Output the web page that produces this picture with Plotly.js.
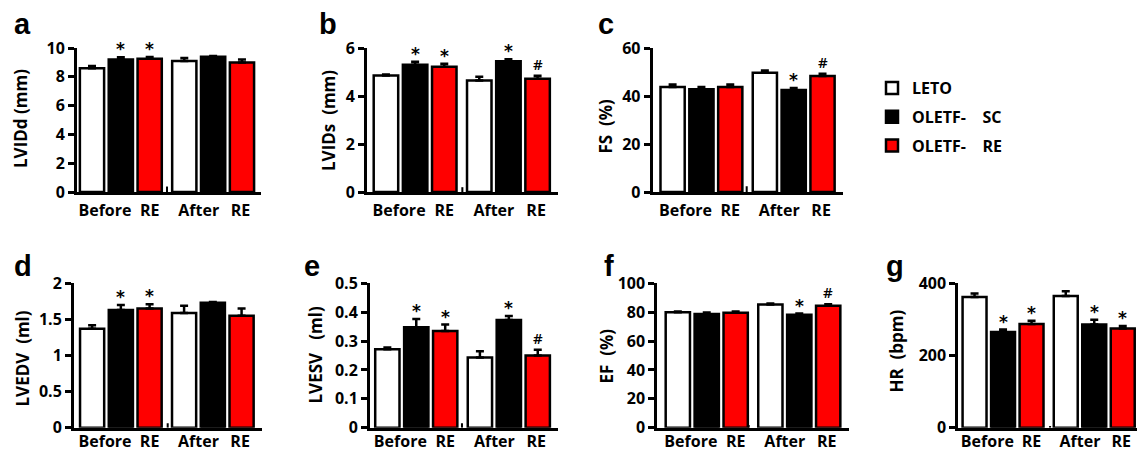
<!DOCTYPE html>
<html><head><meta charset="utf-8">
<script src="https://cdn.plot.ly/plotly-3.0.1.min.js"></script>
<style>html,body{margin:0;padding:0;background:#fff;} #chart{width:1137px;height:453px;}</style>
</head><body><div id="chart"></div>
<script>
// ---------- data ----------
const seriesNames = ['LETO', 'OLETF-\u00a0\u00a0\u00a0\u00a0SC', 'OLETF-\u00a0\u00a0\u00a0\u00a0RE'];
const seriesColors = ['#ffffff', '#000000', '#ff0000'];
const tickText = ['Before', 'RE', 'After', 'RE'];
// order of each array: [LETO before, SC before, RE before, LETO after, SC after, RE after]
const lviddMean = [8.6, 9.2, 9.25, 9.1, 9.4, 9.0];
const lviddErr  = [0.15, 0.15, 0.12, 0.2, 0.05, 0.2];
const lviddSig  = ['', '*', '*', '', '', ''];

const lvidsMean = [4.85, 5.3, 5.22, 4.65, 5.45, 4.72];
const lvidsErr  = [0.05, 0.13, 0.12, 0.15, 0.08, 0.12];
const lvidsSig  = ['', '*', '*', '', '*', '#'];

const fsMean = [43.8, 42.8, 43.8, 49.7, 42.5, 48.3];
const fsErr  = [1.0, 1.0, 1.0, 0.9, 0.8, 1.0];
const fsSig  = ['', '', '', '', '*', '#'];

const lvedvMean = [1.37, 1.63, 1.65, 1.59, 1.73, 1.55];
const lvedvErr  = [0.05, 0.07, 0.06, 0.1, 0.01, 0.1];
const lvedvSig  = ['', '*', '*', '', '', ''];

const lvesvMean = [0.272, 0.348, 0.335, 0.243, 0.373, 0.25];
const lvesvErr  = [0.006, 0.028, 0.022, 0.022, 0.014, 0.02];
const lvesvSig  = ['', '*', '*', '', '*', '#'];

const efMean = [80.0, 78.8, 79.6, 85.3, 78.2, 84.5];
const efErr  = [0.5, 1.0, 0.8, 0.7, 0.8, 1.0];
const efSig  = ['', '', '', '', '*', '#'];

const hrMean = [362, 265, 287, 365, 286, 275];
const hrErr  = [10, 7, 9, 13, 13, 7];
const hrSig  = ['', '*', '*', '', '*', '*'];

// small separator mark between the two groups (height in data units)
const gapMark = [0.38, 0.2, 2.4, 0.06, 0.015, 1.9, 4.6];

// ---------- geometry ----------
const W = 1137, H = 453;
const groupStart = [0, 3.2];
const panels = [
  {L:'a', mean:lviddMean, err:lviddErr, sig:lviddSig, title:'LVIDd (mm)', ymax:10, dtick:2, xd:[77,261], yd:[48,192], xr:[-0.52,5.86], tc:[20,119], lx:12, gp:2.6},
  {L:'b', mean:lvidsMean, err:lvidsErr, sig:lvidsSig, title:'LVIDs\u00a0\u00a0(mm)', ymax:6, dtick:2, xd:[367,558], yd:[48,192], xr:[-0.65,5.90], tc:[328,121], lx:317, gp:2.62},
  {L:'c', mean:fsMean, err:fsErr, sig:fsSig, title:'FS\u00a0\u00a0(%)', ymax:60, dtick:20, xd:[652.7,843], yd:[48,192], xr:[-0.69,5.91], tc:[605.5,126], lx:596, gp:2.57},
  {L:'d', mean:lvedvMean, err:lvedvErr, sig:lvedvSig, title:'LVEDV\u00a0\u00a0(ml)', ymax:2, dtick:0.5, xd:[74,261.7], yd:[283.3,427.7], xr:[-0.63,5.9], tc:[21.5,359], lx:12, gp:2.63},
  {L:'e', mean:lvesvMean, err:lvesvErr, sig:lvesvSig, title:'LVESV\u00a0\u00a0\u00a0(ml)', ymax:0.5, dtick:0.1, xd:[370,558], yd:[283.3,427.7], xr:[-0.6,5.9], tc:[314.5,355], lx:302, gp:2.58},
  {L:'f', mean:efMean, err:efErr, sig:efSig, title:'EF\u00a0\u00a0(%)', ymax:100, dtick:20, xd:[657.3,849.3], yd:[283.3,427.7], xr:[-0.71,5.93], tc:[605.5,356], lx:602, gp:2.45},
  {L:'g', mean:hrMean, err:hrErr, sig:hrSig, title:'HR\u00a0\u00a0(bpm)', ymax:400, dtick:200, xd:[958.3,1137], yd:[283.3,427.7], xr:[-0.57,5.7], tc:[895.5,351], lx:884, gp:2.65}
];

const FONT = '"Open Sans", "Noto Sans", sans-serif';
const BAR_W = 0.84;
const traces = [];
const annotations = [];
const layout = {
  width: W, height: H,
  margin: {l:0, r:0, t:0, b:0},
  paper_bgcolor: '#fff', plot_bgcolor: 'rgba(0,0,0,0)',
  barmode: 'overlay',
  showlegend: true,
  legend: {x: 872/W, y: 1 - 71/H, xanchor:'left', yanchor:'top', traceorder:'grouped', tracegroupgap: 5,
           font:{family: FONT, size:16, color:'#000', weight:700}, bgcolor:'rgba(0,0,0,0)'},
  font: {family: FONT, color:'#000'},
  annotations: annotations
};

panels.forEach((p, i) => {
  const n = i + 1;
  const xa = 'xaxis' + (n === 1 ? '' : n), ya = 'yaxis' + (n === 1 ? '' : n);
  const xr = 'x' + (n === 1 ? '' : n), yr = 'y' + (n === 1 ? '' : n);
  const topRow = p.yd[0] < 200;
  layout[xa] = {
    domain: [p.xd[0]/W, p.xd[1]/W], range: p.xr, anchor: yr,
    showline: true, linecolor: '#000', linewidth: 3, ticks: '', showgrid: false, zeroline: false,
    tickmode: 'array', tickvals: [0.45, 2.0, 3.7, 5.15], ticktext: tickText,
    tickfont: {family: FONT, size: 16, color: '#000', weight: 700},
    ticklabelstandoff: topRow ? 2 : -3, fixedrange: true
  };
  layout[ya] = {
    domain: [1 - p.yd[1]/H, 1 - p.yd[0]/H], range: [0, p.ymax], anchor: xr,
    showline: true, linecolor: '#000', linewidth: 3, ticks: 'outside', ticklen: 6, tickwidth: 3, tickcolor: '#000',
    dtick: p.dtick, tick0: 0, showgrid: false, zeroline: false,
    tickfont: {family: FONT, size: 16, color: '#000', weight: 700}, fixedrange: true
  };
  for (let s = 0; s < 3; s++) {
    const idx = [s, s + 3];
    traces.push({
      type: 'bar', name: seriesNames[s], legendgroup: 'g' + s, showlegend: i === 0,
      x: groupStart.map(g => g + s), y: idx.map(k => p.mean[k]), width: BAR_W,
      xaxis: xr, yaxis: yr,
      marker: {color: seriesColors[s], line: {color: '#000', width: 2.5}},
      error_y: {type: 'data', symmetric: false, array: idx.map(k => p.err[k]), arrayminus: [0, 0],
                color: '#000', thickness: 2.5, width: 4},
      hoverinfo: 'skip'
    });
    idx.forEach((k, j) => {
      if (p.sig[k]) {
        const isHash = p.sig[k] === '#';
        annotations.push({
          xref: xr, yref: yr, x: groupStart[j] + s, y: p.mean[k] + p.err[k],
          text: p.sig[k], showarrow: false, xanchor: 'center', yanchor: 'bottom',
          yshift: isHash ? 0 : -4,
          font: {family: isHash ? FONT : '"DejaVu Sans", sans-serif', size: isHash ? 15 : 17, color: '#000', weight: isHash ? 600 : 700}
        });
      }
    });
  }
  // separator mark
  traces.push({type: 'bar', x: [p.gp], y: [gapMark[i]], width: 0.07, xaxis: xr, yaxis: yr,
               marker: {color: '#000', line: {width: 0}}, showlegend: false, hoverinfo: 'skip'});
  // y-axis title
  annotations.push({xref: 'paper', yref: 'paper', x: p.tc[0]/W, y: 1 - p.tc[1]/H, text: p.title,
                    textangle: -90, showarrow: false, xanchor: 'center', yanchor: 'middle',
                    font: {family: FONT, size: 17, color: '#000', weight: 700}});
  // panel letter
  const baseY = topRow ? 35 : 277;
  annotations.push({xref: 'paper', yref: 'paper', x: p.lx/W, y: 1 - (baseY + 7)/H, text: p.L,
                    showarrow: false, xanchor: 'left', yanchor: 'bottom',
                    font: {family: '"Liberation Sans", Arial, sans-serif', size: 29, color: '#000', weight: 700}});
});

Plotly.newPlot('chart', traces, layout, {staticPlot: true, displayModeBar: false});
</script>
</body></html>
